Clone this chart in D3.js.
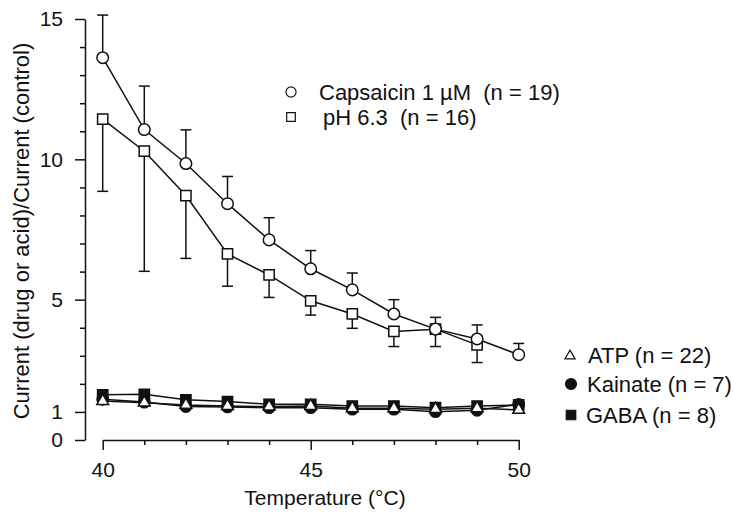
<!DOCTYPE html>
<html>
<head>
    <title>Current ratio vs temperature</title>
    <script src="https://d3js.org/d3.v7.min.js"></script>
    <style>
        body { margin: 0; background: #fff; }
        text { font-family: "Liberation Sans", Arial, sans-serif; fill: #111; }
    </style>
</head>
<body>
    <svg width="733" height="517"></svg>
    <script>
        // values
        const temps = [40, 41, 42, 43, 44, 45, 46, 47, 48, 49, 50];
        const capsMean = [13.62, 11.06, 9.85, 8.42, 7.13, 6.10, 5.35, 4.49, 3.95, 3.60, 3.04];
        const capsErr  = [1.52, 1.55, 1.20, 0.97, 0.79, 0.65, 0.60, 0.51, 0.42, 0.50, 0.40];
        const phTemps = [40, 41, 42, 43, 44, 45, 46, 47, 48, 49];
        const phMean = [11.43, 10.29, 8.71, 6.63, 5.88, 4.96, 4.49, 3.87, 3.95, 3.39];
        const phErr  = [2.57, 4.28, 2.24, 1.15, 0.80, 0.51, 0.51, 0.54, 0.62, 0.63];
        const gaba    = [1.61, 1.63, 1.43, 1.37, 1.27, 1.27, 1.21, 1.21, 1.15, 1.21, 1.25];
        const kainate = [1.45, 1.35, 1.19, 1.18, 1.15, 1.15, 1.10, 1.10, 1.01, 1.06, 1.27];
        const atp     = [1.39, 1.33, 1.25, 1.21, 1.19, 1.21, 1.13, 1.13, 1.10, 1.13, 1.07];
        const yLabels = [0, 1, 5, 10, 15];
        const yMinor = [2, 3, 4, 6, 7, 8, 9, 11, 12, 13, 14];
        const xLabels = [40, 45, 50];
        const xMinor = [41, 42, 43, 44, 46, 47, 48, 49];

        const svg = d3.select("svg");
        const x = d3.scaleLinear().domain([40, 50]).range([102.7, 518.7]);
        const y = d3.scaleLinear().domain([0, 15]).range([440, 19]);

        const ink = "#111";
        const sw = 1.5;

        // y axis: minor then major ticks
        const yAxisX = 85;
        svg.append("g")
           .attr("transform", `translate(${yAxisX},0)`)
           .call(d3.axisLeft(y).tickValues(yMinor).tickSize(5).tickFormat(""))
           .call(g => g.select(".domain").remove());
        svg.append("g")
           .attr("class", "yaxis")
           .attr("transform", `translate(${yAxisX},0)`)
           .call(d3.axisLeft(y).tickValues(yLabels).tickSize(10).tickSizeOuter(0).tickPadding(12));

        // x axis sits detached below
        const xAxisY = 440;
        svg.append("g")
           .attr("transform", `translate(0,${xAxisY})`)
           .call(d3.axisBottom(x).tickValues(xMinor).tickSize(5).tickFormat(""))
           .call(g => g.select(".domain").remove());
        svg.append("g")
           .attr("class", "xaxis")
           .attr("transform", `translate(0,${xAxisY})`)
           .call(d3.axisBottom(x).tickValues(xLabels).tickSize(10).tickSizeOuter(0).tickPadding(12));

        svg.selectAll(".domain, .tick line").attr("stroke", ink).attr("stroke-width", sw);
        svg.selectAll(".tick text").attr("font-size", 21).attr("fill", ink)
           .attr("font-family", "Liberation Sans, Arial, sans-serif");

        // axis titles
        svg.append("text")
           .attr("transform", "translate(29,231) rotate(-90)")
           .attr("text-anchor", "middle")
           .attr("font-size", 22)
           .text("Current (drug or acid)/Current (control)");
        svg.append("text")
           .attr("x", 325).attr("y", 505)
           .attr("text-anchor", "middle")
           .attr("font-size", 21)
           .text("Temperature (°C)");

        const line = d3.line().x(d => x(d[0])).y(d => y(d[1]));
        const zip = (a, b) => a.map((t, i) => [t, b[i]]);

        // error bars (capsaicin up, pH down)
        function errBars(ts, m, e, dir) {
            const g = svg.append("g").attr("stroke", ink).attr("stroke-width", sw);
            ts.forEach((t, i) => {
                const y0 = y(m[i]), y1 = y(m[i] + dir * e[i]);
                g.append("line").attr("x1", x(t)).attr("x2", x(t)).attr("y1", y0).attr("y2", y1);
                g.append("line").attr("x1", x(t) - 5.5).attr("x2", x(t) + 5.5).attr("y1", y1).attr("y2", y1);
            });
        }
        errBars(temps, capsMean, capsErr, 1);
        errBars(phTemps, phMean, phErr, -1);

        function series(ts, vals, shape, fill, size) {
            const pts = zip(ts, vals);
            svg.append("path").datum(pts)
               .attr("d", line).attr("fill", "none")
               .attr("stroke", ink).attr("stroke-width", sw);
            svg.append("g").selectAll("path").data(pts).join("path")
               .attr("transform", d => `translate(${x(d[0])},${y(d[1])})`)
               .attr("d", d3.symbol().type(shape).size(size))
               .attr("fill", fill)
               .attr("stroke", ink).attr("stroke-width", sw);
        }

        series(temps, gaba, d3.symbolSquare, ink, 105);
        series(temps, kainate, d3.symbolCircle, ink, 100);
        series(temps, atp, d3.symbolTriangle, "#fff", 60);
        series(phTemps, phMean, d3.symbolSquare, "#fff", 105);
        series(temps, capsMean, d3.symbolCircle, "#fff", 105);

        // legends
        const legTop = [
            {shape: d3.symbolCircle, fill: "#fff", size: 80, mx: 291, my: 92, tx: 319, ty: 100, label: "Capsaicin 1 µM  (n = 19)"},
            {shape: d3.symbolSquare, fill: "#fff", size: 75, mx: 291, my: 117, tx: 323, ty: 125, label: "pH 6.3  (n = 16)"}
        ];
        const legBottom = [
            {shape: d3.symbolTriangle, fill: "#fff", size: 45, mx: 570, my: 356, tx: 588, ty: 363, label: "ATP (n = 22)"},
            {shape: d3.symbolCircle, fill: ink, size: 95, mx: 571, my: 384, tx: 587, ty: 392, label: "Kainate (n = 7)"},
            {shape: d3.symbolSquare, fill: ink, size: 90, mx: 571, my: 415, tx: 586, ty: 423, label: "GABA (n = 8)"}
        ];
        const leg = svg.append("g").selectAll("g").data(legTop.concat(legBottom)).join("g");
        leg.append("path")
           .attr("transform", d => `translate(${d.mx},${d.my})`)
           .attr("d", d => d3.symbol().type(d.shape).size(d.size)())
           .attr("fill", d => d.fill)
           .attr("stroke", ink).attr("stroke-width", 1.2);
        leg.append("text")
           .attr("x", d => d.tx).attr("y", d => d.ty)
           .attr("font-size", 22)
           .style("white-space", "pre")
           .text(d => d.label);
    </script>
</body>
</html>
